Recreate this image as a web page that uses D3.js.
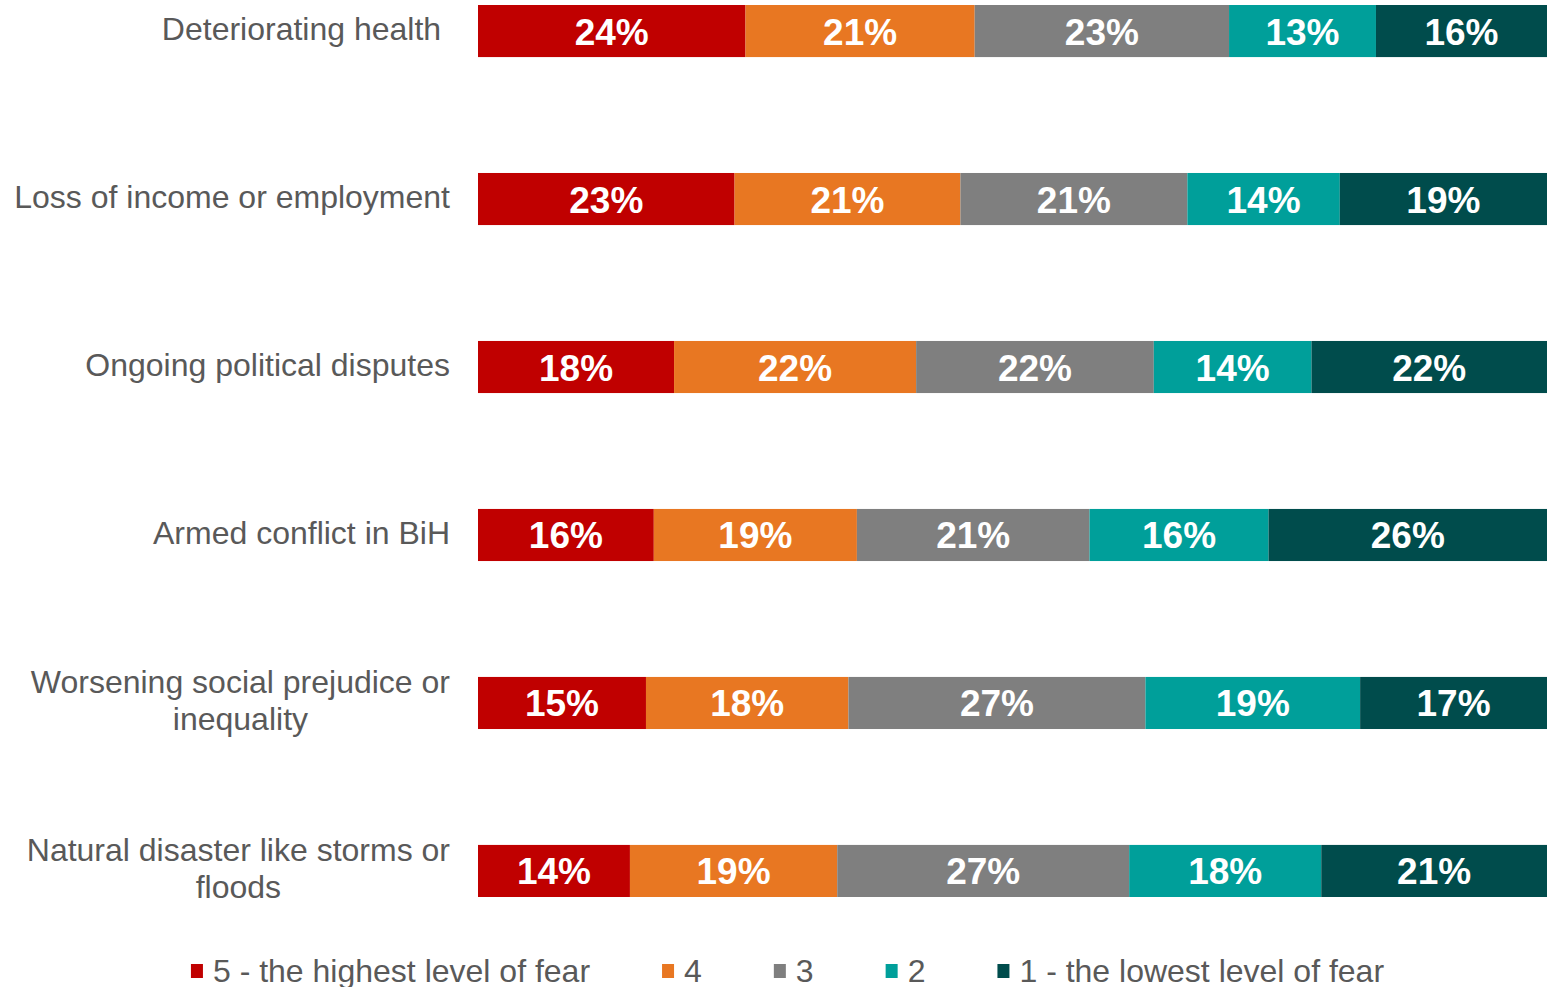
<!DOCTYPE html>
<html>
<head>
<meta charset="utf-8">
<style>
  body { margin: 0; background: #fff; }
  svg { display: block; font-family: "Liberation Sans", Arial, sans-serif; }
</style>
</head>
<body>
<svg class="chart"></svg>

<script src="https://d3js.org/d3.v7.min.js"></script>
<script>
// categories, top to bottom ("\n" = wrapped line)
const categories = [
  "Deteriorating health ",
  "Loss of income or employment",
  "Ongoing political disputes",
  "Armed conflict in BiH",
  "Worsening social prejudice or\ninequality",
  "Natural disaster like storms or\nfloods"
];

const seriesNames = ["5 - the highest level of fear", "4", "3", "2", "1 - the lowest level of fear"];

// share of respondents per level, one array per level (same order as categories)
const fear5 = [24.4, 23.4, 17.9, 16.1, 15.1, 14.0];
const fear4 = [20.9, 20.6, 22.1, 18.6, 18.2, 19.1];
const fear3 = [23.2, 20.7, 21.7, 21.3, 26.7, 26.9];
const fear2 = [13.4, 13.9, 14.4, 16.4, 19.3, 17.7];
const fear1 = [15.6, 18.9, 21.5, 25.5, 16.8, 20.8];

const colors = ["#C00000", "#E87722", "#7F7F7F", "#009F9A", "#004C4C"];

width = 1547
height = 987
margin = ({top: 5, right: 0, bottom: 90, left: 478})

const table = categories.map((c, i) => ({
  cat: c,
  s0: fear5[i], s1: fear4[i], s2: fear3[i], s3: fear2[i], s4: fear1[i]
}));
const keys = ["s0", "s1", "s2", "s3", "s4"];

const stacked = d3.stack().keys(keys).offset(d3.stackOffsetExpand)(table);

x = d3.scaleLinear()
    .domain([0, 1])
    .range([margin.left, width - margin.right])

y = d3.scaleBand()
    .domain(categories)
    .range([margin.top, 897])
    .paddingInner(0.69)
    .paddingOuter(0)

color = d3.scaleOrdinal().domain(keys).range(colors)

const svg = d3.select("svg")
    .attr("width", width)
    .attr("height", height)
    .attr("viewBox", [0, 0, width, height]);

// bars
const layer = svg.append("g")
  .selectAll("g")
  .data(stacked)
  .join("g")
    .attr("fill", d => color(d.key));

layer.selectAll("rect")
  .data(d => d.map(v => Object.assign(v, {key: d.key})))
  .join("rect")
    .attr("x", d => x(d[0]))
    .attr("y", d => y(d.data.cat))
    .attr("width", d => x(d[1]) - x(d[0]))
    .attr("height", y.bandwidth());

// value labels
layer.selectAll("text")
  .data(d => d)
  .join("text")
    .attr("x", d => (x(d[0]) + x(d[1])) / 2)
    .attr("y", d => y(d.data.cat) + y.bandwidth() / 2 + 1)
    .attr("text-anchor", "middle")
    .attr("dominant-baseline", "central")
    .attr("fill", "#fff")
    .attr("font-weight", "bold")
    .attr("font-size", 37)
    .text(d => Math.round(d.data[d.key]) + "%");

// category labels: block right-aligned, lines centred on each other
const labelRight = margin.left - 28;
const lineH = 37;
svg.append("g")
  .selectAll("text")
  .data(categories)
  .join("text")
    .attr("fill", "#595959")
    .attr("font-size", 32)
    .attr("text-anchor", "middle")
    .attr("dominant-baseline", "central")
    .style("white-space", "pre")
    .each(function(c) {
      const lines = c.split("\n");
      const t = d3.select(this);
      const cy = y(c) + y.bandwidth() / 2 - 2;
      lines.forEach((ln, i) => {
        t.append("tspan")
          .attr("y", cy + (i - (lines.length - 1) / 2) * lineH)
          .text(ln);
      });
      let w = 0;
      t.selectAll("tspan").each(function() { w = Math.max(w, this.getComputedTextLength()); });
      t.selectAll("tspan").attr("x", labelRight - w / 2);
    });

// legend
const legend = svg.append("g");
const items = legend.selectAll("g")
  .data(seriesNames)
  .join("g");

items.append("rect")
    .attr("width", 12)
    .attr("height", 14)
    .attr("y", -7)
    .attr("fill", (d, i) => colors[i]);

items.append("text")
    .attr("x", 22)
    .attr("dominant-baseline", "central")
    .attr("fill", "#595959")
    .attr("font-size", 32)
    .text(d => d);

let pos = 0;
items.each(function() {
  const g = d3.select(this);
  g.attr("transform", `translate(${pos},0)`);
  pos += 22 + g.select("text").node().getComputedTextLength() + 72;
});
const legendW = pos - 72;
legend.attr("transform", `translate(${787.5 - legendW / 2},971)`);
</script>
</body>
</html>
